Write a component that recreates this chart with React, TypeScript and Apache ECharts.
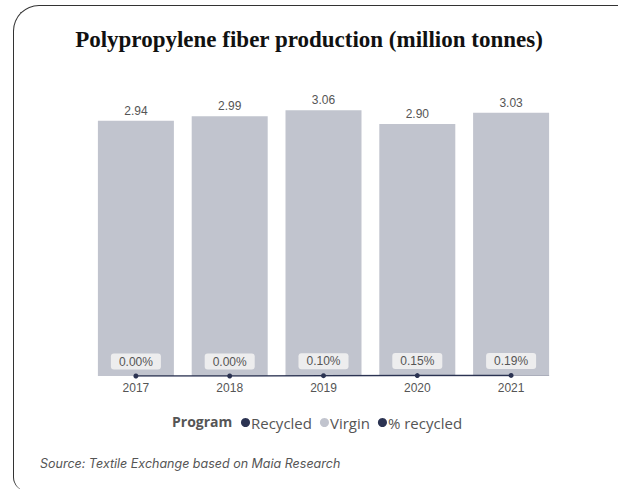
import React, { useEffect, useRef } from "react";
import * as echarts from "echarts";

const years = ["2017", "2018", "2019", "2020", "2021"];
const totals = [2.94, 2.99, 3.06, 2.9, 3.03];
const recycled = [0, 0, 0.003, 0.0044, 0.0058];
const pctRecycled = [0.0, 0.0, 0.1, 0.15, 0.19];

const NAVY = "#2b3352";
const GREY = "#c1c4ce";

export default function App() {
  const ref = useRef<HTMLDivElement>(null);
  useEffect(() => {
    const chart = echarts.init(ref.current!, null, { renderer: "svg" });
    const virgin = totals.map((t, i) => +(t - recycled[i]).toFixed(4));
    chart.setOption({
      animation: false,
      backgroundColor: "transparent",
      title: {
        text: "Polypropylene fiber production (million tonnes)",
        left: "center",
        top: 23,
        textStyle: {
          fontFamily: "Liberation Serif",
          fontWeight: "bold",
          fontSize: 23,
          color: "#111",
        },
      },
      grid: { left: 89, right: 60, top: 72, bottom: 113 },
      xAxis: {
        type: "category",
        data: years,
        axisLine: { show: false },
        axisTick: { show: false },
        axisLabel: {
          color: "#555",
          fontSize: 12,
          fontFamily: "Liberation Sans",
          margin: 6,
        },
      },
      yAxis: [
        { type: "value", min: 0, max: 3.5, show: false },
        { type: "value", min: 0, max: 100, show: false },
      ],
      legend: {
        left: 236,
        top: 410,
        itemWidth: 9,
        itemHeight: 9,
        itemGap: 8,
        icon: "circle",
        textStyle: {
          color: "#555",
          fontSize: 15,
          fontFamily: "Open Sans",
          padding: [0, 0, 0, -4],
        },
        data: ["Recycled", "Virgin", "% recycled"],
      },
      graphic: [
        {
          type: "text",
          left: 172,
          top: 414,
          style: {
            text: "Program",
            fontFamily: "Open Sans",
            fontWeight: "bold",
            fontSize: 14,
            fill: "#555",
          },
        },
        {
          type: "text",
          left: 40,
          top: 457,
          style: {
            text: "Source: Textile Exchange based on Maia Research",
            fontFamily: "Inter",
            fontStyle: "italic",
            fontSize: 12.5,
            fill: "#555",
          },
        },
      ],
      series: [
        {
          name: "Recycled",
          type: "bar",
          stack: "p",
          barWidth: 76,
          data: recycled,
          itemStyle: { color: NAVY },
        },
        {
          name: "Virgin",
          type: "bar",
          stack: "p",
          barWidth: 76,
          data: virgin,
          itemStyle: { color: GREY },
          label: {
            show: true,
            position: "top",
            distance: 4,
            color: "#555",
            fontSize: 12,
            fontFamily: "Liberation Sans",
            formatter: (p: any) => totals[p.dataIndex].toFixed(2),
          },
        },
        {
          name: "% recycled",
          type: "line",
          yAxisIndex: 1,
          data: pctRecycled,
          symbol: "circle",
          symbolSize: 5,
          lineStyle: { color: NAVY, width: 1.5 },
          itemStyle: { color: NAVY },
          z: 5,
          label: {
            show: true,
            position: "top",
            distance: 4,
            color: "#555",
            fontSize: 12,
            lineHeight: 12,
            fontFamily: "Liberation Sans",
            backgroundColor: "#ededee",
            borderRadius: 3,
            padding: [2, 8, 2, 8],
            formatter: (p: any) => pctRecycled[p.dataIndex].toFixed(2) + "%",
          },
        },
      ],
    });
    return () => chart.dispose();
  }, []);
  return (
    <>
      <div
        ref={ref}
        style={{ position: "fixed", left: 0, top: 0, width: 618, height: 489, background: "#fff" }}
      />
      <div
        style={{
          position: "fixed",
          left: 13,
          top: 5,
          width: 640,
          height: 486,
          borderTop: "1.5px solid #333",
          borderLeft: "1.5px solid #333",
          borderTopLeftRadius: 26,
          borderBottomLeftRadius: 14,
          pointerEvents: "none",
          boxSizing: "border-box",
        }}
      />
    </>
  );
}
